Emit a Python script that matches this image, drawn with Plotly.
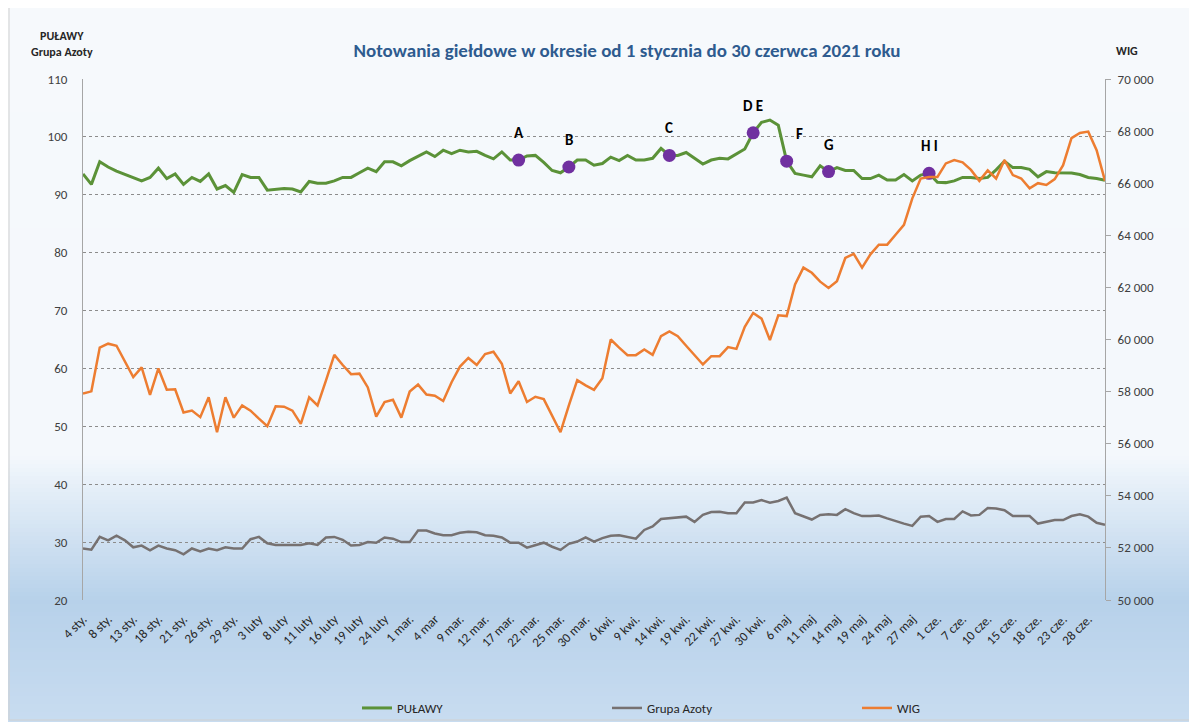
import plotly.graph_objects as go

# trading days 4 Jan - 30 Jun 2021, one value per session
pulawy = [93.6, 91.8, 95.7, 94.8, 94.1, 93.5, 93.0, 92.4, 93.0, 94.6, 92.8, 93.6, 91.8, 93.0, 92.3, 93.6, 91.0, 91.6, 90.4, 93.5,
          93.0, 93.0, 90.8, 91.0, 91.1, 91.0, 90.5, 92.3, 92.0, 92.0, 92.4, 93.0, 93.0, 93.8, 94.6, 94.0, 95.7, 95.7, 95.0, 95.9,
          96.6, 97.4, 96.6, 97.7, 97.1, 97.7, 97.4, 97.5, 96.8, 96.2, 97.4, 96.0, 96.0, 96.7, 96.8, 95.6, 94.2, 93.8, 94.8, 96.0,
          96.0, 95.1, 95.4, 96.5, 95.9, 96.8, 96.0, 96.0, 96.3, 98.0, 96.8, 96.8, 97.3, 96.3, 95.3, 96.0, 96.3, 96.2, 97.0, 97.9,
          100.7, 102.5, 102.9, 102.0, 95.8, 93.7, 93.4, 93.1, 95.0, 94.0, 94.7, 94.2, 94.2, 92.8, 92.8, 93.4, 92.55, 92.55, 93.5, 92.4,
          93.4, 93.7, 92.15, 92.1, 92.4, 93.0, 93.0, 92.8, 93.0, 94.3, 95.8, 94.7, 94.7, 94.4, 93.1, 94.0, 93.8, 93.75, 93.75, 93.5,
          93.0, 92.8, 92.5]

grupa_azoty = [28.9, 28.7, 30.9, 30.3, 31.1, 30.3, 29.1, 29.4, 28.6, 29.4, 28.9, 28.6, 27.9, 28.9, 28.4, 28.9, 28.6, 29.1, 28.9, 28.9,
               30.5, 30.9, 29.8, 29.5, 29.5, 29.5, 29.5, 29.8, 29.5, 30.8, 30.9, 30.4, 29.4, 29.5, 30.0, 29.9, 30.8, 30.6, 30.0, 30.0,
               32.0, 32.0, 31.5, 31.2, 31.2, 31.6, 31.8, 31.7, 31.2, 31.1, 30.8, 29.9, 29.9, 29.05, 29.5, 29.9, 29.2, 28.65, 29.7, 30.1,
               30.8, 30.1, 30.7, 31.1, 31.2, 30.9, 30.6, 32.1, 32.7, 34.0, 34.1, 34.2, 34.4, 33.5, 34.7, 35.2, 35.25, 35.0, 35.0, 36.85,
               36.85, 37.25, 36.8, 37.1, 37.7, 35.0, 34.4, 33.9, 34.7, 34.8, 34.7, 35.7, 35.0, 34.5, 34.5, 34.6, 34.1, 33.6, 33.2, 32.8,
               34.4, 34.5, 33.5, 34.0, 34.0, 35.3, 34.6, 34.7, 35.9, 35.8, 35.5, 34.5, 34.5, 34.5, 33.2, 33.5, 33.8, 33.8, 34.5, 34.8,
               34.4, 33.35, 33.0]

wig = [57930, 58010, 59690, 59840, 59760, 59160, 58560, 58930, 57870, 58890, 58070, 58090, 57200, 57270, 57020, 57780, 56440, 57780, 57000, 57470,
       57270, 56960, 56670, 57440, 57420, 57270, 56760, 57780, 57470, 58420, 59410, 59020, 58670, 58690, 58160, 57040, 57600, 57690, 57000, 58000,
       58270, 57890, 57840, 57640, 58360, 58960, 59290, 59020, 59440, 59530, 59070, 57930, 58400, 57600, 57800, 57710, 57090, 56440, 57470, 58440,
       58240, 58070, 58510, 60000, 59690, 59400, 59400, 59620, 59410, 60130, 60310, 60130, 59760, 59380, 59040, 59360, 59360, 59710, 59640, 60490,
       61020, 60800, 59980, 60930, 60900, 62110, 62760, 62560, 62220, 61980, 62240, 63130, 63290, 62760, 63270, 63640, 63640, 64020, 64400, 65420,
       66180, 66240, 66240, 66760, 66890, 66800, 66510, 66090, 66490, 66180, 66890, 66310, 66180, 65800, 66000, 65930, 66160, 66690, 67730, 67930,
       67980, 67270, 66090]

# every third session is labelled on the axis
date_labels = ["4 sty.", "8 sty.", "13 sty.", "18 sty.", "21 sty.", "26 sty.", "29 sty.", "3 luty", "8 luty", "11 luty",
               "16 luty", "19 luty", "24 luty", "1 mar.", "4 mar", "9 mar.", "12 mar.", "17 mar.", "22 mar.", "25 mar.",
               "30 mar.", "6 kwi.", "9 kwi.", "14 kwi.", "19 kwi.", "22 kwi.", "27 kwi.", "30 kwi.", "6 maj", "11 maj",
               "14 maj", "19 maj", "24 maj", "27 maj", "1 cze.", "7 cze.", "10 cze.", "15 cze.", "18 cze.", "23 cze.", "28 cze."]

# events marked on the PUŁAWY line
event_idx = [52, 58, 70, 80, 84, 89, 101]
event_txt = ["A", "B", "C", "D E", "F", "G", "H I"]

sessions = list(range(len(pulawy)))
tick_vals = sessions[::3][:len(date_labels)]

FONT = "Carlito, 'Liberation Sans Narrow', 'Open Sans', sans-serif"
OFF = 8  # page body margin
W, H = 1197 - OFF, 722 - OFF
L, T = 83 - OFF, 79 - OFF
pw, ph = 1022, 521
R, B = W - L - pw, H - T - ph


def px(x):  # page pixel -> paper x
    return (x - OFF - L) / pw


def py(y):  # page pixel -> paper y
    return (T + ph - (y - OFF)) / ph


fig = go.Figure()
fig.add_trace(go.Scatter(x=sessions, y=pulawy, mode="lines", name="PUŁAWY",
                         line=dict(color="#5B9238", width=3)))
fig.add_trace(go.Scatter(x=sessions, y=grupa_azoty, mode="lines", name="Grupa Azoty",
                         line=dict(color="#767171", width=2.5)))
fig.add_trace(go.Scatter(x=sessions, y=wig, mode="lines", name="WIG", yaxis="y2",
                         line=dict(color="#ED7D31", width=2.5)))
fig.add_trace(go.Scatter(x=event_idx, y=[pulawy[i] for i in event_idx], mode="markers", showlegend=False,
                         marker=dict(color="#7030A0", size=13), hoverinfo="skip"))

for i, t in zip(event_idx, event_txt):
    fig.add_annotation(x=i, y=pulawy[i], text="<b>%s</b>" % t, showarrow=False,
                       xshift=13 if t == "F" else 0, yshift=27,
                       font=dict(family=FONT, size=15, color="#000000"))

# background: white fading to light blue towards the bottom (page pixel rows)
stops = [(0, (246, 249, 252)), (455, (244, 248, 252)), (490, (228, 238, 248)),
         (600, (183, 209, 234)), (722, (200, 220, 240))]


def colour_at(y):
    for (y0, c0), (y1, c1) in zip(stops[:-1], stops[1:]):
        if y0 <= y <= y1:
            f = (y - y0) / (y1 - y0)
            return "rgb(%d,%d,%d)" % tuple(round(a + (b - a) * f) for a, b in zip(c0, c1))
    return "rgb(%d,%d,%d)" % stops[-1][1]


shapes = []
step = 4
for yy in range(OFF, 722, step):
    shapes.append(dict(type="rect", xref="paper", yref="paper", layer="below",
                       x0=px(OFF), x1=px(1197), y0=py(yy + step), y1=py(yy),
                       line=dict(width=0), fillcolor=colour_at(yy + step / 2)))
shapes.append(dict(type="rect", xref="paper", yref="paper", layer="above",
                   x0=px(OFF + 1), x1=px(1195), y0=py(720), y1=py(OFF - 4),
                   line=dict(color="#D0D0D0", width=1), fillcolor="rgba(0,0,0,0)"))

fig.add_annotation(text="<b>PUŁAWY<br>Grupa Azoty</b>", xref="paper", yref="paper",
                   x=px(62), y=py(44), xanchor="center", yanchor="middle", showarrow=False,
                   font=dict(family=FONT, size=12, color="#262626"))
fig.add_annotation(text="<b>WIG</b>", xref="paper", yref="paper",
                   x=px(1127), y=py(51), xanchor="center", yanchor="middle", showarrow=False,
                   font=dict(family=FONT, size=12, color="#262626"))

fig.update_layout(
    width=W, height=H,
    margin=dict(l=L, r=R, t=T, b=B, autoexpand=False),
    paper_bgcolor="#F6F9FC",
    plot_bgcolor="rgba(0,0,0,0)",
    separators=", ",
    font=dict(family=FONT, size=12, color="#404040"),
    title=dict(text="<b>Notowania giełdowe w okresie od 1 stycznia do 30 czerwca 2021 roku</b>",
               x=(627 - OFF) / W, xanchor="center", y=1 - (50 - OFF) / H, yanchor="middle",
               font=dict(family=FONT, size=19, color="#2E5B8F")),
    xaxis=dict(range=[0, len(pulawy) - 1], tickvals=tick_vals, ticktext=date_labels, tickangle=-45,
               showgrid=False, zeroline=False, showline=False, ticks="", ticklabelstandoff=8,
               tickfont=dict(size=13, color="#262626")),
    yaxis=dict(range=[20, 110], dtick=10, showgrid=True, gridcolor="#8C8C8C", griddash="dot", gridwidth=1,
               showline=True, linecolor="#A6A6A6", linewidth=1, zeroline=False, ticks="",
               ticklabelstandoff=12, tickfont=dict(size=13, color="#404040")),
    yaxis2=dict(range=[50000, 70000], dtick=2000, tickformat=",d", overlaying="y", side="right",
                showgrid=False, showline=True, linecolor="#A6A6A6", linewidth=1, zeroline=False,
                ticks="outside", ticklen=5, tickcolor="#A6A6A6", ticklabelstandoff=4,
                tickfont=dict(size=13, color="#404040")),
    legend=dict(orientation="h", x=px(357), xanchor="left", y=py(708), yanchor="middle",
                entrywidth=205, entrywidthmode="pixels", bgcolor="rgba(0,0,0,0)",
                font=dict(family=FONT, size=13, color="#262626")),
    shapes=shapes,
    showlegend=True,
)

fig.write_html("out.html")
